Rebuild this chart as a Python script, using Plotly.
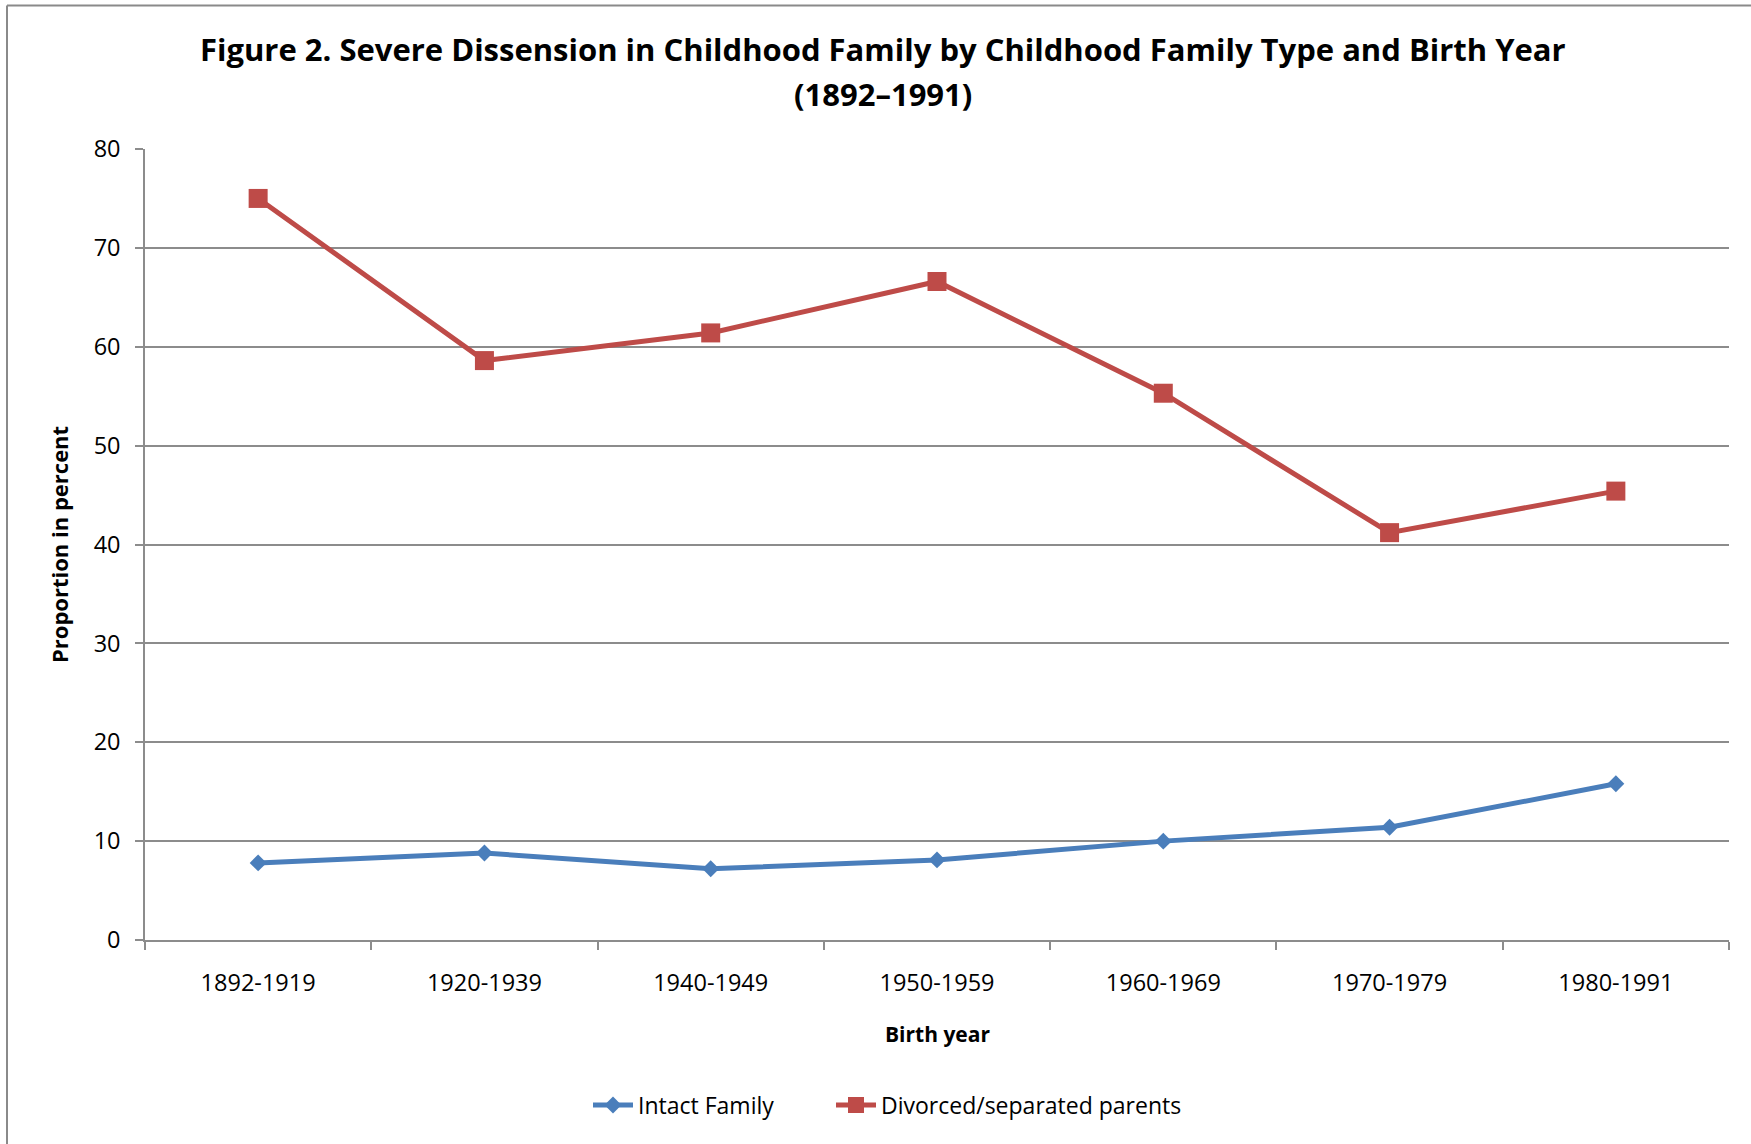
import plotly.graph_objects as go

categories = ["1892-1919", "1920-1939", "1940-1949", "1950-1959",
              "1960-1969", "1970-1979", "1980-1991"]
intact = [7.8, 8.8, 7.2, 8.1, 10.0, 11.4, 15.8]
divorced = [75.0, 58.6, 61.4, 66.6, 55.3, 41.2, 45.4]
y_ticks = [0, 10, 20, 30, 40, 50, 60, 70, 80]

W, H = 1751, 1144
L, R, T, B = 145, 22, 149, 204
PW, PH = W - L - R, H - T - B

def px_x(x):
    return (x - L) / PW

def px_y(y):
    return (H - B - y) / PH

BLUE = "#4A7EBB"
RED = "#BE4B48"
GRID = "#8C8C8C"
FONT = "Open Sans"

fig = go.Figure()
fig.add_trace(go.Scatter(
    x=categories, y=intact, name="Intact Family", mode="lines+markers",
    line=dict(color=BLUE, width=5),
    marker=dict(symbol="diamond", size=13, color=BLUE),
    legend="legend"))
fig.add_trace(go.Scatter(
    x=categories, y=divorced, name="Divorced/separated parents", mode="lines+markers",
    line=dict(color=RED, width=5),
    marker=dict(symbol="square", size=19, color=RED),
    legend="legend2"))

legend_common = dict(orientation="h", xanchor="left", yanchor="middle",
                     y=px_y(1105), bgcolor="rgba(0,0,0,0)",
                     font=dict(family=FONT, size=23, color="black"),
                     itemwidth=40)

fig.update_layout(
    width=W, height=H,
    margin=dict(l=L, r=R, t=T, b=B, pad=0),
    paper_bgcolor="white", plot_bgcolor="white",
    font=dict(family=FONT, color="black"),
    showlegend=True,
    legend=dict(x=px_x(588), **legend_common),
    legend2=dict(x=px_x(831), **legend_common),
)

fig.update_xaxes(
    type="category", range=[-0.5, 6.5], tickson="boundaries",
    showline=True, linecolor=GRID, linewidth=1.5,
    ticks="outside", ticklen=8, tickcolor=GRID, tickwidth=1.5,
    ticklabelstandoff=21,
    tickfont=dict(family=FONT, size=23.5, color="black"),
    showgrid=False, zeroline=False,
)
fig.update_yaxes(
    range=[0, 80], tickvals=y_ticks,
    showline=True, linecolor=GRID, linewidth=1.5,
    ticks="outside", ticklen=8, tickcolor=GRID, tickwidth=1.5,
    ticklabelstandoff=10,
    tickfont=dict(family=FONT, size=23.5, color="black"),
    showgrid=True, gridcolor=GRID, gridwidth=1.5, zeroline=False,
)

annotations = [
    dict(text="<b>Figure 2. Severe Dissension in Childhood Family by Childhood Family Type and Birth Year</b>",
         x=px_x(883), y=px_y(49), font=dict(family=FONT, size=31, color="black")),
    dict(text="<b>(1892–1991)</b>",
         x=px_x(883), y=px_y(94), font=dict(family=FONT, size=31, color="black")),
    dict(text="<b>Birth year</b>",
         x=px_x(937), y=px_y(1034), font=dict(family=FONT, size=21, color="black")),
    dict(text="<b>Proportion in percent</b>", textangle=-90,
         x=px_x(59), y=px_y(545), font=dict(family=FONT, size=22, color="black")),
]
for a in annotations:
    fig.add_annotation(xref="paper", yref="paper", showarrow=False,
                       xanchor="center", yanchor="middle", **a)

# outer chart border (cropped: only left and top edges visible)
fig.add_shape(type="line", xref="paper", yref="paper",
              x0=px_x(7), x1=px_x(7), y0=px_y(1200), y1=px_y(5.5),
              line=dict(color="#8A8A8A", width=2))
fig.add_shape(type="line", xref="paper", yref="paper",
              x0=px_x(7), x1=px_x(1800), y0=px_y(5.5), y1=px_y(5.5),
              line=dict(color="#8A8A8A", width=2))

fig.write_html("out.html")
